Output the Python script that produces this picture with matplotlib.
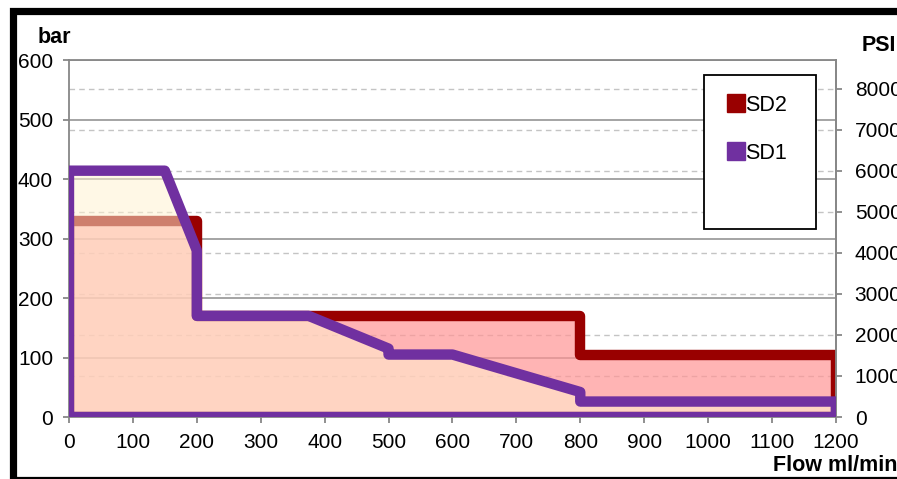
import matplotlib
matplotlib.use("Agg")
import matplotlib.pyplot as plt
from matplotlib.lines import Line2D
from matplotlib.patches import Rectangle
from matplotlib.legend_handler import HandlerTuple

plt.rcParams['font.family'] = ['Liberation Sans', 'DejaVu Sans']

# pump curves, flow (ml/min) vs pressure (bar)
sd2_flow = [0, 0, 200, 200, 800, 800, 1200, 1200, 0]
sd2_bar = [0, 330, 330, 170, 170, 105, 105, 0, 0]

sd1_flow = [0, 0, 150, 200, 200, 375, 500, 500, 600, 800, 800, 1200, 1200, 0]
sd1_bar = [0, 414, 414, 280, 170, 170, 115, 105, 105, 42, 26, 26, 0, 0]

x_ticks = list(range(0, 1201, 100))
bar_ticks = list(range(0, 601, 100))
psi_ticks = list(range(0, 8001, 1000))
PSI_PER_BAR = 14.5038

grid_col = '#8c8c8c'
spine_col = '#878787'

fig = plt.figure(figsize=(8.97, 4.79), dpi=100)
ax = fig.add_axes([0.0769, 0.1294, 0.855, 0.7453])

ax.set_xlim(0, 1200)
ax.set_ylim(0, 600)
ax.set_xticks(x_ticks)
ax.set_yticks(bar_ticks)
# dashed lines at the PSI ticks
ax.set_yticks([p / PSI_PER_BAR for p in psi_ticks[1:]], minor=True)
ax.grid(True, which='major', axis='y', color=grid_col, lw=1.1, zorder=0)
ax.grid(True, which='minor', axis='y', color='#c4c4c4', lw=1.0, ls=(0, (4, 3)), zorder=0)
ax.set_axisbelow(True)

# SD2 area and outline
ax.fill(sd2_flow, sd2_bar, color='#ff9595', alpha=0.7, lw=0, zorder=1)
ax.plot(sd2_flow, sd2_bar, color='#990000', lw=7.5, solid_joinstyle='round', zorder=2)
# SD1 area and outline
ax.fill(sd1_flow, sd1_bar, color='#fff2d0', alpha=0.53, lw=0, zorder=3)
ax.plot(sd1_flow, sd1_bar, color='#7030a0', lw=7.5, solid_joinstyle='round', zorder=4)

for s in ax.spines.values():
    s.set_color(spine_col)
    s.set_linewidth(1.3)
ax.tick_params(which='major', direction='out', length=4.5, width=1.3, color=spine_col,
               labelsize=15, pad=7)
ax.tick_params(which='minor', length=0)

sec = ax.secondary_yaxis('right', functions=(lambda b: b * PSI_PER_BAR, lambda p: p / PSI_PER_BAR))
sec.set_yticks(psi_ticks)
sec.spines['right'].set_color(spine_col)
sec.spines['right'].set_linewidth(1.3)
sec.tick_params(direction='out', length=4.5, width=1.3, color=spine_col, labelsize=15, pad=9)

# legend
h_sd2 = (Line2D([], [], ls='', marker='s', ms=13, color='#990000'),
         Line2D([], [], ls='', marker='o', ms=1.8, color='white'))
h_sd1 = (Line2D([], [], ls='', marker='s', ms=13, color='#7030a0'),
         Line2D([], [], ls='', marker='o', ms=1.8, color='white'))
ax.add_patch(Rectangle((0.828, 0.527), 0.146, 0.431, transform=ax.transAxes,
                       facecolor='white', edgecolor='black', lw=1.3, zorder=6))
leg = ax.legend([h_sd2, h_sd1], ['SD2', 'SD1'], handler_map={tuple: HandlerTuple(ndivide=None)},
                loc='upper left', bbox_to_anchor=(0.845, 0.945), frameon=False,
                fontsize=15.5, handlelength=0.9, handletextpad=-0.3, labelspacing=1.25,
                borderpad=0.2)
leg.set_zorder(7)

fig.text(38 / 897, 1 - 43 / 479, 'bar', fontsize=15.5, fontweight='bold', va='baseline')
fig.text(862 / 897, 1 - 51 / 479, 'PSI', fontsize=15.5, fontweight='bold', va='baseline')
fig.text(773 / 897, 1 - 471 / 479, 'Flow ml/min', fontsize=15.5, fontweight='bold', va='baseline')

# outer black frame
fig.patches.append(Rectangle((12.5 / 897, -0.002), 1.1, 0.979, transform=fig.transFigure,
                             fill=False, edgecolor='black', lw=5.2, clip_on=False))

fig.savefig('out.png', dpi=100)
